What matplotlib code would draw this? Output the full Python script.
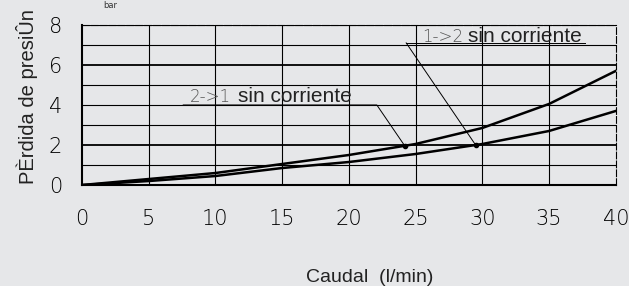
import matplotlib
matplotlib.use("Agg")
import matplotlib.pyplot as plt

caudal = [0, 5, 10, 15, 20, 25, 30, 35, 40]
perdida_21 = [0, 0.3, 0.6, 1.05, 1.5, 2.05, 2.85, 4.05, 5.7]
perdida_12 = [0, 0.2, 0.45, 0.85, 1.15, 1.55, 2.05, 2.7, 3.7]
xticks = [0, 5, 10, 15, 20, 25, 30, 35, 40]
yticks = [0, 2, 4, 6, 8]

bg = "#e6e7e9"
thin = dict(family="DejaVu Sans", fontweight="light")
sans = "Liberation Sans"

fig = plt.figure(figsize=(6.29, 2.86), dpi=100, facecolor=bg)
ax = fig.add_axes([0.130, 0.353, 0.849, 0.560])
ax.set_facecolor(bg)

# grid
for yy in range(0, 9):
    ax.axhline(yy, color="black", lw=1.3 if yy in (2, 6) else 0.8, zorder=1)
for xx in xticks[1:-1]:
    ax.axvline(xx, color="black", lw=0.8, zorder=1)

ax.plot(caudal, perdida_21, color="black", lw=1.8, zorder=3)
ax.plot(caudal, perdida_12, color="black", lw=1.8, zorder=3)

# labels with leader lines
ax.plot([7.6, 22.1, 24.2], [4.0, 4.0, 1.95], color="black", lw=0.7, zorder=3)
ax.plot([24.2], [1.95], "o", color="black", ms=3, zorder=4)
ax.plot([24.3, 37.7], [7.1, 7.1], color="black", lw=0.7, zorder=3)
ax.plot([24.3, 29.5], [7.1, 2.0], color="black", lw=0.7, zorder=3)
ax.plot([29.5], [2.0], "o", color="black", ms=3, zorder=4)

ax.text(8.1, 4.15, "2->1", fontsize=12, color="#555555", va="baseline", zorder=5, **thin)
ax.text(11.7, 4.15, "sin corriente", fontsize=15, family=sans, color="#222222", va="baseline", zorder=5)
ax.text(25.5, 7.15, "1->2", fontsize=12, color="#555555", va="baseline", zorder=5, **thin)
ax.text(28.9, 7.15, "sin corriente", fontsize=15, family=sans, color="#222222", va="baseline", zorder=5)

ax.set_xlim(0, 40)
ax.set_ylim(0, 8)
ax.set_xticks(xticks)
ax.set_yticks(yticks)
ax.set_xticklabels([str(v) for v in xticks], fontsize=15, **thin)
ax.set_yticklabels([str(v) for v in yticks], fontsize=15, **thin)
ax.tick_params(axis="x", length=0, pad=17)
ax.tick_params(axis="y", length=0, pad=14)

for s in ("left", "bottom"):
    ax.spines[s].set_linewidth(1.5)
for s in ("top", "right"):
    ax.spines[s].set_linewidth(0.8)
    ax.spines[s].set_linestyle((0, (6, 2)))

ax.set_ylabel("PÈrdida de presiÛn", fontsize=14.5, family=sans, color="#222222")
ax.yaxis.set_label_coords(-0.082, 0.55)
fig.text(0.587, 0.031, "Caudal  (l/min)", fontsize=14, family=sans, color="#222222",
         ha="center", va="center")
fig.text(0.175, 0.998, "bar", fontsize=6, ha="center", va="top", color="#333333")

fig.savefig("out.png", dpi=100, facecolor=bg)
